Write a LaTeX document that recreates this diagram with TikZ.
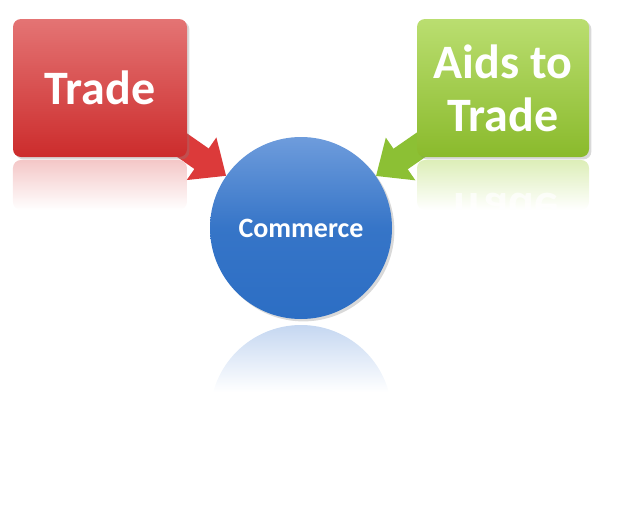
\documentclass[tikz,border=0pt]{standalone}
\usepackage{fontspec}
\setmainfont{Carlito}
\usetikzlibrary{arrows.meta, shadows, fadings, backgrounds}
\definecolor{tradetop}{RGB}{228,116,116}
\definecolor{tradebottom}{RGB}{204,44,44}
\definecolor{tradearrow}{RGB}{220,58,58}
\definecolor{aidstop}{RGB}{186,222,112}
\definecolor{aidsbottom}{RGB}{138,186,44}
\definecolor{aidsarrow}{RGB}{140,192,52}
\definecolor{commtop}{RGB}{110,156,220}
\definecolor{commbottom}{RGB}{44,110,196}
\tikzfading[name=spiegel, top color=transparent!0, bottom color=transparent!100]

\begin{document}
\begin{tikzpicture}[x=1pt, y=-1pt,
		>={Triangle[width=50pt,length=30pt]},   %Pfeilspitzen
		box/.style={rounded corners=8pt, minimum width=174pt, minimum height=138pt, align=center,
			text=white, font=\fontsize{48}{53}\selectfont\bfseries, drop shadow={opacity=0.3}},
		kreis/.style={circle, minimum size=182pt, inner sep=0pt, text=white,
			font=\fontsize{28}{30}\selectfont\bfseries, drop shadow={opacity=0.3}},
		pfeil/.style={line width=25pt, ->}]
		%Bildbereich
		\useasboundingbox (0,0) rectangle (629,509);
		% Knoten zeichnen
		\node[box, top color=tradetop, bottom color=tradebottom] (trade) at (100,88) {Trade};
		\node[box, top color=aidstop, bottom color=aidsbottom, minimum width=172pt] (aids) at (503,88) {Aids to\\Trade};
		\node[kreis, top color=commtop, bottom color=commbottom, middle color=commbottom!85!commtop] (commerce) at (301,228) {Commerce};
		% Pfeile hinter den Knoten
		\begin{scope}[on background layer]
			\draw[pfeil, tradearrow] (trade.center) -- (commerce);
			\draw[pfeil, aidsarrow] (aids.center) -- (commerce);
			%Spiegelungen
			\fill[tradetop!40, rounded corners=8pt, path fading=spiegel] (13,160) rectangle (187,210);
			\fill[aidstop!50, rounded corners=8pt, path fading=spiegel] (417,160) rectangle (589,210);
			\begin{scope}
				\clip (301,416) circle (91);
				\fill[commtop!40, path fading=spiegel] (205,325) rectangle (397,392);
			\end{scope}
		\end{scope}
		\begin{scope}[shift={(503,190)}, yscale=-1]
			\node[transform shape, text=white, text opacity=0.7, font=\fontsize{48}{53}\selectfont\bfseries, anchor=south] (aidsspiegel) at (0,0) {Trade};
		\end{scope}
	\end{tikzpicture}
\end{document}
